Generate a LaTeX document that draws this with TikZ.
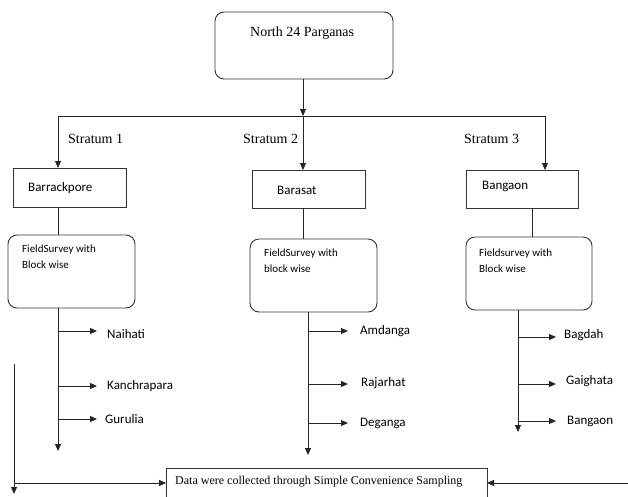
\documentclass[tikz,border=0pt]{standalone}
\usepackage{fontspec}
\setmainfont{Liberation Serif}
\newfontfamily\calfont{Carlito}
\usetikzlibrary{arrows.meta}
\begin{document}
\begin{tikzpicture}[x=1pt,y=-1pt,
  conn/.style={line width=0.9pt,draw=black!85},
  arr/.style={conn,-{Triangle[length=7pt,width=6pt]}},
  rbox/.style={draw=black!80,line width=0.9pt,rounded corners=9pt},
  sbox/.style={draw=black!80,line width=0.9pt},
  serif/.style={font=\fontsize{14}{16}\selectfont,anchor=west,inner sep=0pt},
  lbl/.style={font=\calfont\fontsize{13}{15}\selectfont,anchor=west,inner sep=0pt},
  fs/.style={font=\calfont\fontsize{11}{15.5}\selectfont,anchor=north west,inner sep=0pt,align=left}]
\useasboundingbox (0,0) rectangle (628,496);
% top
\draw[rbox] (215,12) rectangle (393,79);
\node[serif] (top) at (250,33) {North 24 Parganas};
\coordinate (tb) at (303,79);
\coordinate (hub) at (303,116);
\draw[arr] (tb) -- (hub);
\coordinate (hl) at (58,116);
\coordinate (hr) at (545,116);
\draw[conn] (hl) -- (hr);
\node[serif] (s1) at (68,139) {Stratum 1};
\node[serif] (s2) at (243,139) {Stratum 2};
\node[serif] (s3) at (464,139) {Stratum 3};
% level boxes
\draw[sbox] (13,168) rectangle (126,207);
\node[lbl] (b1) at (28,188) {Barrackpore};
\draw[sbox] (252,170) rectangle (365,208);
\node[lbl] (b2) at (277,190) {Barasat};
\draw[sbox] (466,170) rectangle (578,208);
\node[lbl] (b3) at (482,186) {Bangaon};
\draw[arr] (hl) -- (58,168);
\draw[arr] (303,116) -- (303,170);
\draw[arr] (hr) -- (545,170);
% field survey boxes
\draw[rbox] (8,235) rectangle (135,308);
\node[fs] (f1) at (22,245) {FieldSurvey with\\Block wise};
\draw[rbox] (250,239) rectangle (377,312);
\node[fs] (f2) at (264,249) {FieldSurvey with\\block wise};
\draw[rbox] (466,237) rectangle (592,310);
\node[fs] (f3) at (479,249) {Fieldsurvey with\\Block wise};
\draw[conn] (58,207) -- (58,235);
\draw[conn] (303,208) -- (303,239);
\draw[conn] (532,208) -- (532,237);
% stratum 1 branches
\draw[arr] (58,308) -- (58,451);
\draw[arr] (58,331) -- (97,331);
\draw[arr] (58,386) -- (97,386);
\draw[arr] (58,419) -- (97,419);
\node[lbl] (n1) at (107,334) {Naihati};
\node[lbl] (n2) at (107,386) {Kanchrapara};
\node[lbl] (n3) at (105,419) {Gurulia};
% stratum 2 branches
\draw[arr] (308,312) -- (308,455);
\draw[arr] (308,331) -- (348,331);
\draw[arr] (308,384) -- (348,384);
\draw[arr] (308,423) -- (348,423);
\node[lbl] (m1) at (360,331) {Amdanga};
\node[lbl] (m2) at (361,383) {Rajarhat};
\node[lbl] (m3) at (360,423) {Deganga};
% stratum 3 branches
\draw[arr] (518,310) -- (518,432);
\draw[arr] (518,337) -- (556,337);
\draw[arr] (518,384) -- (556,384);
\draw[arr] (518,421) -- (556,421);
\node[lbl] (g1) at (564,335) {Bagdah};
\node[lbl] (g2) at (566,381) {Gaighata};
\node[lbl] (g3) at (567,421) {Bangaon};
% bottom
\draw[sbox] (166,468) rectangle (487,500);
\node[font=\fontsize{12}{14}\selectfont,anchor=west,inner sep=0pt] (data) at (175,482) {Data were collected through Simple Convenience Sampling};
\draw[arr] (14,364) -- (14,494);
\draw[arr] (14,483) -- (166,483);
\draw[arr] (628,483) -- (487,483);
\end{tikzpicture}
\end{document}
